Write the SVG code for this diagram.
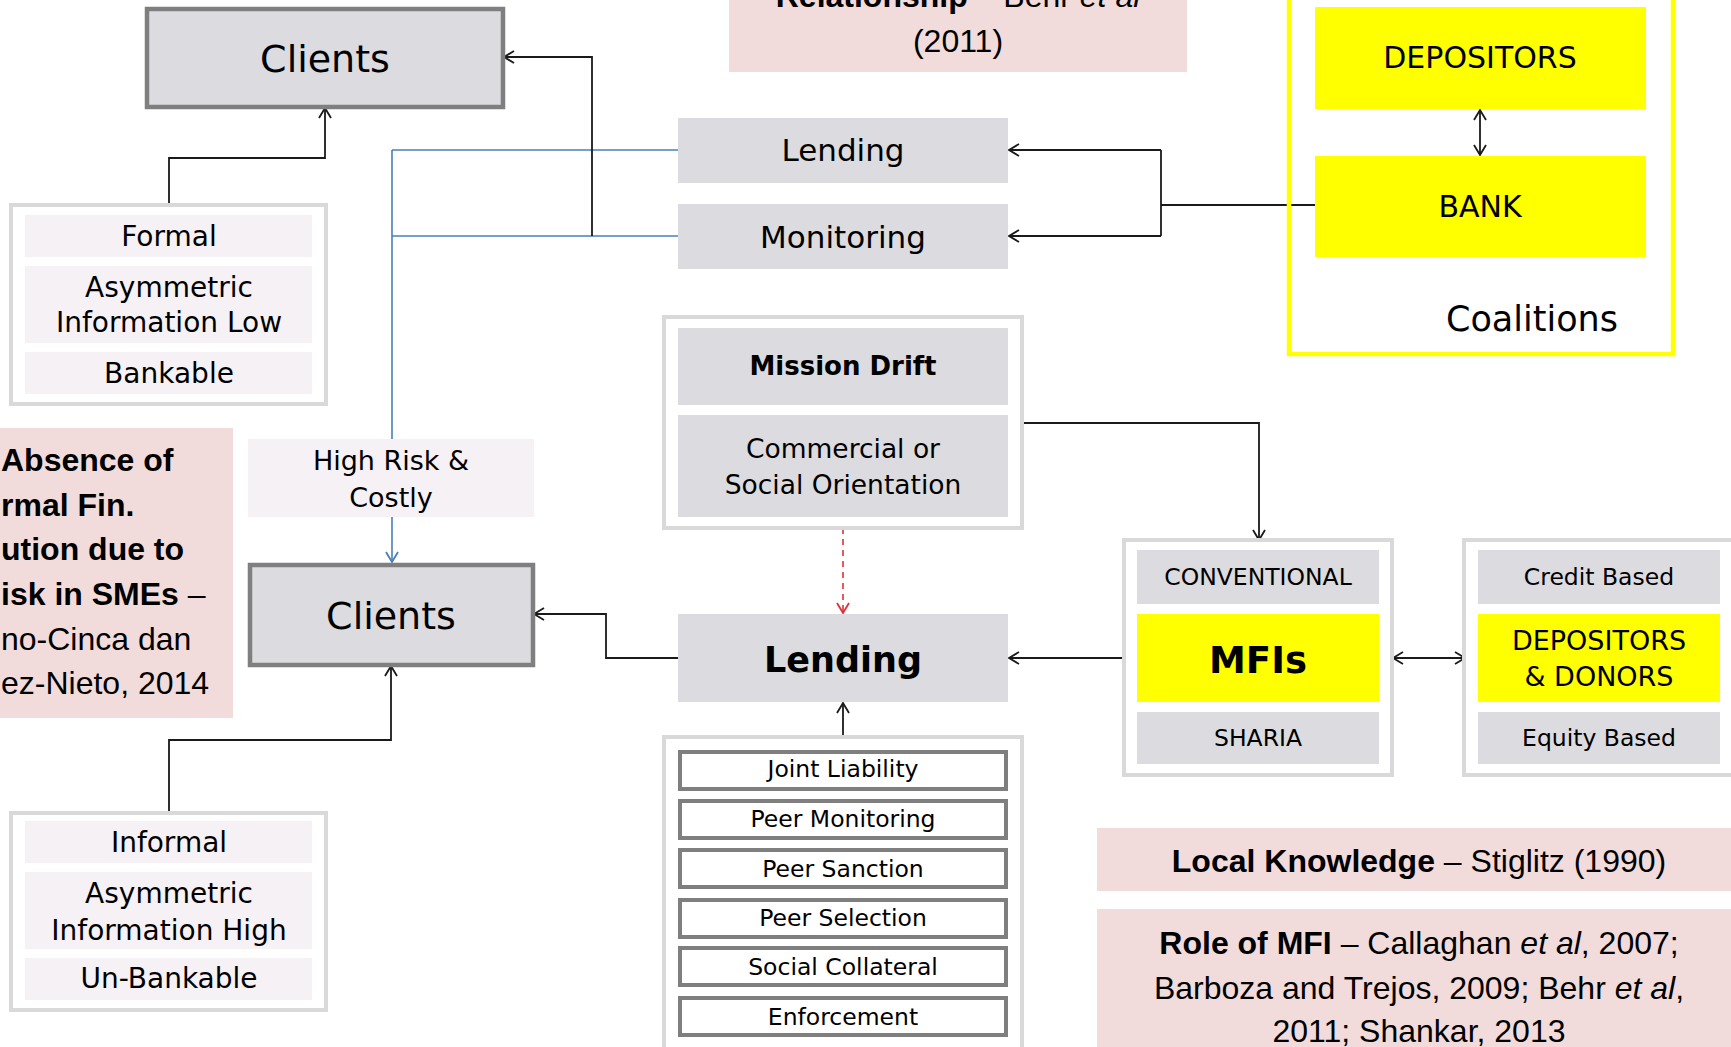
<svg xmlns="http://www.w3.org/2000/svg" width="1731" height="1047" viewBox="0 0 1731 1047">
<defs>
<style>
.t{font-family:"DejaVu Sans",sans-serif;fill:#000;text-anchor:middle}
.c{font-family:"Liberation Sans",Arial,sans-serif;fill:#000;font-size:32px}
.b{font-weight:bold}
.gray{fill:#dcdbdf}
.pink{fill:#f6f1f4}
.cite{fill:#f2dcdb}
.yel{fill:#ffff00}
.grp{fill:#fff;stroke:#d9d9d9;stroke-width:4}
.cli{fill:#dcdbdf;stroke:#7f7f7f;stroke-width:4.5}
.mech{fill:#fff;stroke:#7f7f7f;stroke-width:4}
.ln{fill:none;stroke:#1a1a1a;stroke-width:1.8}
.bl{fill:none;stroke:#4a7ebb;stroke-width:1.6}
.rd{fill:none;stroke:#e0303a;stroke-width:1.6;stroke-dasharray:6 5}
</style>
<marker id="ak" markerWidth="14" markerHeight="14" refX="11" refY="7" orient="auto-start-reverse" markerUnits="userSpaceOnUse">
<path d="M1,1 L11,7 L1,13" fill="none" stroke="#1a1a1a" stroke-width="1.8"/>
</marker>
<marker id="ab" markerWidth="14" markerHeight="14" refX="11" refY="7" orient="auto" markerUnits="userSpaceOnUse">
<path d="M1,1 L11,7 L1,13" fill="none" stroke="#4a7ebb" stroke-width="1.8"/>
</marker>
<marker id="ar" markerWidth="14" markerHeight="14" refX="11" refY="7" orient="auto" markerUnits="userSpaceOnUse">
<path d="M1,1 L11,7 L1,13" fill="none" stroke="#e0303a" stroke-width="1.8"/>
</marker>
</defs>
<rect width="1731" height="1047" fill="#fff"/>

<g id="connectors">
<path class="bl" d="M678,150 H392"/>
<path class="bl" d="M678,236 H392"/>
<path class="bl" d="M392,150 V562" marker-end="url(#ab)"/>
<path class="ln" d="M592,236 V57 H504" marker-end="url(#ak)"/>
<path class="ln" d="M169,205 V158 H325 V108" marker-end="url(#ak)"/>
<path class="ln" d="M1315,205 H1161"/>
<path class="ln" d="M1161,150 V236"/>
<path class="ln" d="M1161,150 H1009" marker-end="url(#ak)"/>
<path class="ln" d="M1161,236 H1009" marker-end="url(#ak)"/>
<path class="ln" d="M1480,110 V155" marker-start="url(#ak)" marker-end="url(#ak)"/>
<path class="ln" d="M1022,423 H1259 V540" marker-end="url(#ak)"/>
<path class="rd" d="M843,528 V613" marker-end="url(#ar)"/>
<path class="ln" d="M678,658 H606 V614 H534" marker-end="url(#ak)"/>
<path class="ln" d="M169,813 V740 H391 V666" marker-end="url(#ak)"/>
<path class="ln" d="M843,737 V703" marker-end="url(#ak)"/>
<path class="ln" d="M1124,658 H1009" marker-end="url(#ak)"/>
<path class="ln" d="M1393,658 H1465" marker-start="url(#ak)" marker-end="url(#ak)"/>
</g>

<g id="cite-relationship">
<rect class="cite" x="729" y="0" width="458" height="72"/>
<text class="c" x="958" y="7" text-anchor="middle"><tspan class="b">Relationship</tspan> – Behr <tspan font-style="italic">et al</tspan></text>
<text class="c" x="958" y="52" text-anchor="middle">(2011)</text>
</g>

<g id="clients-top">
<rect class="cli" x="147" y="9" width="356" height="98"/>
<text class="t" x="325" y="72" font-size="38">Clients</text>
</g>

<g id="formal-group">
<rect class="grp" x="11" y="205" width="315" height="199"/>
<rect class="pink" x="25" y="215" width="287" height="42"/>
<text class="t" x="169" y="246" font-size="28">Formal</text>
<rect class="pink" x="25" y="266" width="287" height="77"/>
<text class="t" x="169" y="297" font-size="28">Asymmetric</text>
<text class="t" x="169" y="332" font-size="28">Information Low</text>
<rect class="pink" x="25" y="352" width="287" height="42"/>
<text class="t" x="169" y="383" font-size="28">Bankable</text>
</g>

<g id="lending-top">
<rect class="gray" x="678" y="118" width="330" height="65"/>
<text class="t" x="843" y="161" font-size="31">Lending</text>
</g>

<g id="monitoring">
<rect class="gray" x="678" y="204" width="330" height="65"/>
<text class="t" x="843" y="248" font-size="31">Monitoring</text>
</g>

<g id="coalitions">
<rect x="1289" y="-10" width="384" height="364" fill="none" stroke="#ffff00" stroke-width="4.5"/>
<text class="t" x="1532" y="331" font-size="35">Coalitions</text>
</g>

<g id="depositors-top">
<rect class="yel" x="1315" y="7" width="331" height="102"/>
<text class="t" x="1480" y="68" font-size="30">DEPOSITORS</text>
</g>

<g id="bank">
<rect class="yel" x="1315" y="156" width="331" height="101"/>
<text class="t" x="1480" y="217" font-size="30">BANK</text>
</g>

<g id="cite-absence">
<rect class="cite" x="0" y="428" width="233" height="290"/>
<text class="c" x="1" y="471"><tspan class="b">Absence of</tspan></text>
<text class="c" x="1" y="516"><tspan class="b">rmal Fin.</tspan></text>
<text class="c" x="1" y="560"><tspan class="b">ution due to</tspan></text>
<text class="c" x="1" y="605"><tspan class="b">isk in SMEs</tspan> –</text>
<text class="c" x="1" y="650">no-Cinca dan</text>
<text class="c" x="1" y="694">ez-Nieto, 2014</text>
</g>

<g id="high-risk">
<rect class="pink" x="248" y="439" width="286" height="78"/>
<text class="t" x="391" y="470" font-size="27">High Risk &amp;</text>
<text class="t" x="391" y="507" font-size="27">Costly</text>
</g>

<g id="mission-drift">
<rect class="grp" x="664" y="317" width="358" height="211"/>
<rect class="gray" x="678" y="328" width="330" height="77"/>
<text class="t b" x="843" y="375" font-size="26">Mission Drift</text>
<rect class="gray" x="678" y="415" width="330" height="102"/>
<text class="t" x="843" y="458" font-size="26.5">Commercial or</text>
<text class="t" x="843" y="494" font-size="26.5">Social Orientation</text>
</g>

<g id="clients-bottom">
<rect class="cli" x="250" y="565" width="283" height="100"/>
<text class="t" x="391" y="629" font-size="38">Clients</text>
</g>

<g id="lending-main">
<rect class="gray" x="678" y="614" width="330" height="88"/>
<text class="t b" x="843" y="672" font-size="35">Lending</text>
</g>

<g id="informal-group">
<rect class="grp" x="11" y="813" width="315" height="197"/>
<rect class="pink" x="25" y="821" width="287" height="42"/>
<text class="t" x="169" y="852" font-size="28">Informal</text>
<rect class="pink" x="25" y="872" width="287" height="77"/>
<text class="t" x="169" y="903" font-size="28">Asymmetric</text>
<text class="t" x="169" y="940" font-size="28">Information High</text>
<rect class="pink" x="25" y="958" width="287" height="42"/>
<text class="t" x="169" y="988" font-size="28">Un-Bankable</text>
</g>

<g id="mechanisms">
<rect class="grp" x="664" y="737" width="358" height="330"/>
<rect class="mech" x="680" y="752" width="326" height="37"/>
<text class="t" x="843" y="777" font-size="23.5">Joint Liability</text>
<rect class="mech" x="680" y="801" width="326" height="37"/>
<text class="t" x="843" y="827" font-size="23.5">Peer Monitoring</text>
<rect class="mech" x="680" y="850" width="326" height="37"/>
<text class="t" x="843" y="877" font-size="23.5">Peer Sanction</text>
<rect class="mech" x="680" y="900" width="326" height="37"/>
<text class="t" x="843" y="926" font-size="23.5">Peer Selection</text>
<rect class="mech" x="680" y="948" width="326" height="37"/>
<text class="t" x="843" y="975" font-size="23.5">Social Collateral</text>
<rect class="mech" x="680" y="998" width="326" height="37"/>
<text class="t" x="843" y="1025" font-size="23.5">Enforcement</text>
</g>

<g id="mfis-group">
<rect class="grp" x="1124" y="540" width="268" height="235"/>
<rect class="gray" x="1137" y="550" width="242" height="54"/>
<text class="t" x="1258" y="585" font-size="23.5">CONVENTIONAL</text>
<rect class="yel" x="1137" y="614" width="242" height="88"/>
<text class="t b" x="1258" y="673" font-size="37">MFIs</text>
<rect class="gray" x="1137" y="712" width="242" height="52"/>
<text class="t" x="1258" y="746" font-size="23.5">SHARIA</text>
</g>

<g id="funding-group">
<rect class="grp" x="1464" y="540" width="290" height="235"/>
<rect class="gray" x="1478" y="550" width="242" height="54"/>
<text class="t" x="1599" y="585" font-size="23.5">Credit Based</text>
<rect class="yel" x="1478" y="614" width="242" height="88"/>
<text class="t" x="1599" y="650" font-size="27">DEPOSITORS</text>
<text class="t" x="1599" y="686" font-size="27">&amp; DONORS</text>
<rect class="gray" x="1478" y="712" width="242" height="52"/>
<text class="t" x="1599" y="746" font-size="23.5">Equity Based</text>
</g>

<g id="cite-local">
<rect class="cite" x="1097" y="828" width="634" height="63"/>
<text class="c" x="1419" y="872" text-anchor="middle"><tspan class="b">Local Knowledge</tspan> – Stiglitz (1990)</text>
</g>

<g id="cite-role">
<rect class="cite" x="1097" y="909" width="634" height="138"/>
<text class="c" x="1419" y="954" text-anchor="middle"><tspan class="b">Role of MFI</tspan> – Callaghan <tspan font-style="italic">et al</tspan>, 2007;</text>
<text class="c" x="1419" y="999" text-anchor="middle">Barboza and Trejos, 2009; Behr <tspan font-style="italic">et al</tspan>,</text>
<text class="c" x="1419" y="1042" text-anchor="middle">2011; Shankar, 2013</text>
</g>
</svg>
